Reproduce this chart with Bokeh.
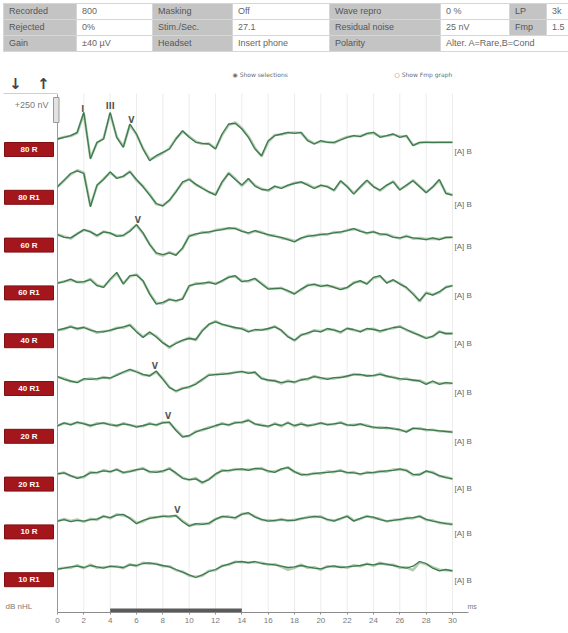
import numpy as np
from bokeh.plotting import figure
from bokeh.models import Range1d, FixedTicker, Div
from bokeh.layouts import column
from bokeh.core.properties import value
from bokeh.embed import file_html
from bokeh.resources import INLINE

# ---------------- data ----------------
time_ms = [i * 0.5 for i in range(61)]          # 0 .. 30 ms sampling grid
trace_labels = ["80 R", "80 R1", "60 R", "60 R1", "40 R", "40 R1",
                "20 R", "20 R1", "10 R", "10 R1"]

# curve A (dark) and curve B (light), amplitude in nV
a_80R = [0,17,33,67,267,-200,-33,0,267,17, -83,150,50,-100,-217,-167,-133,-100,0,83,
         17,-33,-43,-50,-100,50,150,157,100,17, -100,-167,-17,33,50,67,57,67,-17,-50,
         -17,-33,-33,-10,17,33,23,57,67,17, 33,50,17,33,-67,-33,-33,-33,-33,-33, -33]
b_80R = [0,20,30,60,255,-190,-40,5,255,20, -75,140,45,-95,-205,-175,-140,-95,5,75,
         25,-25,-50,-45,-95,40,140,165,110,25, -90,-175,-30,40,45,60,65,60,-10,-45,
         -25,-30,-40,-5,20,30,30,50,60,25, 30,45,25,30,-60,-40,-30,-35,-33,-33, -33]
a_80R1 = [0,67,133,160,133,-200,17,73,150,83, 107,150,73,0,-83,-167,-193,-133,-50,50,
          73,27,-17,-50,-83,50,133,73,17,83, 7,-27,-33,7,-17,17,33,50,17,-17,
          17,0,-33,60,0,-73,0,67,0,-33, 17,50,-33,17,60,0,-60,0,73,-67, -83]
b_80R1 = [0,60,125,165,140,-190,10,80,140,90, 100,155,65,5,-75,-175,-185,-140,-45,40,
          80,20,-10,-55,-75,40,140,80,10,75, 15,-20,-40,0,-10,10,40,45,25,-10,
          10,5,-40,55,5,-65,-5,60,5,-40, 10,55,-25,10,65,5,-55,-5,65,-60, -83]
a_60R = [0,-27,-33,7,50,27,-7,27,17,-17, -7,33,100,17,-100,-183,-200,-183,-207,-133,
         -17,7,17,27,40,50,67,60,33,17, 40,17,0,-17,-27,-50,-73,-33,-17,-7,
         0,7,17,27,40,60,33,17,27,7, 0,-27,-33,-17,-33,-40,-50,-33,-50,-27, -27]
b_60R = [0,-20,-40,10,45,30,-15,30,10,-10, -10,40,95,10,-95,-190,-210,-175,-200,-140,
         -10,0,25,20,45,55,60,65,40,10, 35,25,-5,-10,-35,-45,-65,-40,-10,-15,
         5,0,25,20,45,55,40,10,30,0, 5,-20,-40,-10,-40,-35,-45,-40,-45,-30, -27]
a_60R1 = [-7,7,33,0,7,27,-33,-50,33,100, -17,67,73,17,-117,-217,-200,-173,-183,-167,
          -33,-17,-7,0,-17,17,50,67,7,17, 40,-17,-67,-60,-60,-83,-117,-67,-33,-17,
          -40,-27,-50,-73,-50,-7,17,-17,50,67, -7,27,-17,-50,-117,-183,-107,-127,-93,-50, -33]
b_60R1 = [-7,10,25,5,0,35,-25,-45,25,90, -10,60,80,10,-110,-205,-210,-165,-190,-160,
          -40,-10,-15,5,-10,10,55,60,15,10, 35,-10,-60,-65,-55,-90,-110,-75,-25,-25,
          -35,-35,-45,-65,-55,0,10,-10,45,60, 0,20,-10,-55,-110,-190,-100,-120,-100,-45, -33]
a_40R = [0,17,33,17,27,0,-17,-17,0,17, 33,50,-17,-73,-17,-67,-127,-167,-133,-100,
         -83,-93,-7,60,83,60,40,27,13,-17, 7,0,17,33,0,-67,-100,-50,-27,-7,
         -17,17,0,-17,17,7,-17,17,7,-7, 7,27,33,7,-27,-50,-83,-60,-17,-33, -33]
b_40R = [0,10,40,10,30,5,-25,-10,-5,25, 25,55,-10,-65,-25,-60,-120,-175,-125,-105,
         -75,-100,0,55,90,55,45,20,20,-10, 0,5,10,40,-5,-60,-105,-45,-35,0,
         -10,10,5,-25,20,0,-10,10,15,-15, 10,20,40,0,-20,-55,-75,-65,-10,-35, -33]
a_40R1 = [13,-13,-30,-47,-7,-13,-7,3,0,27, 60,87,60,37,20,70,-13,-97,-130,-107,
          -87,-63,-13,27,37,37,47,53,67,47, 60,-7,-20,-30,-47,-33,-40,-20,-7,13,
          3,-13,3,3,20,33,37,20,27,37, 20,3,-7,-13,-20,-30,-63,-30,-63,-47, -53]
b_40R1 = [10,-5,-35,-40,-15,-5,-15,10,-5,35, 55,80,65,30,25,60,-5,-90,-135,-100,
          -95,-55,-20,35,30,45,40,60,60,55, 50,0,-25,-25,-55,-25,-45,-15,-15,20,
          -5,-5,-5,10,15,40,30,25,20,45, 15,10,-15,-5,-25,-25,-55,-40,-55,-50, -53]
a_20R = [0,30,10,37,20,3,17,30,10,3, 20,10,-13,3,20,10,30,37,-47,-113,
         -97,-63,-37,-23,3,20,10,30,37,53, 20,3,-3,17,3,30,3,17,3,10,
         30,10,20,30,10,3,20,-3,-13,-23, -17,-30,-37,-63,-23,-30,-37,-43,-50,-57, -63]
b_20R = [0,25,15,30,25,-5,25,25,15,-5, 25,5,-5,-5,25,5,35,30,-40,-105,
         -105,-55,-45,-15,-5,25,5,35,30,60, 15,10,-10,25,-5,35,-5,25,-5,15,
         25,15,15,35,5,10,15,5,-20,-15, -25,-25,-45,-55,-30,-25,-45,-40,-55,-55, -63]
a_20R1 = [-3,7,-20,-47,-27,7,13,27,20,40, 13,20,40,47,20,13,27,47,7,-47,
          -60,-53,-87,-60,-3,27,33,40,47,33, 53,47,27,13,47,60,20,-13,-7,0,
          7,13,20,27,13,7,-3,7,13,20, 27,33,47,30,-7,-13,27,7,-20,-40, -53]
b_20R1 = [-3,10,-25,-40,-35,15,5,35,15,45, 5,25,35,55,15,20,20,55,0,-40,
          -65,-45,-95,-55,-10,35,25,45,40,40, 45,55,20,20,40,65,15,-5,-15,5,
          0,20,15,35,5,15,-10,15,5,25, 20,40,40,35,-15,-5,20,15,-25,-35, -53]
a_10R = [3,17,-3,10,3,17,23,50,37,63, 70,30,-23,10,30,43,50,53,57,-3,
         -47,-23,-30,-17,20,50,43,37,70,87, 43,20,3,10,17,10,10,30,37,50,
         43,20,3,30,50,3,30,50,43,17, 3,10,20,30,37,50,20,3,-10,-23, -30]
b_10R = [3,25,5,20,-5,25,15,55,30,70, 60,35,-15,0,35,40,55,45,60,5,
         -40,-30,-25,-25,25,45,50,30,75,80, 50,15,10,5,25,5,15,25,45,45,
         50,15,10,25,55,10,25,55,35,25, 0,15,15,35,30,55,15,10,-15,-20, -30]
a_10R1 = [0,10,23,30,17,37,23,10,30,23, 17,43,37,57,63,50,37,23,-3,-30,
          -57,-83,-57,-23,-3,30,50,70,77,63, 77,57,50,43,30,17,23,37,23,10,
          3,23,33,17,23,30,37,50,43,57, 50,37,23,10,30,77,57,10,-17,-3, -17]
b_10R1 = [0,15,15,40,10,45,15,20,25,30, 10,50,30,65,55,55,30,30,-10,-25,
          -65,-75,-65,-15,-10,35,45,75,70,70, 70,65,45,50,25,-5,15,45,15,20,
          -5,30,25,25,15,40,30,55,35,65, 45,45,15,20,-10,70,50,20,-5,-10, -17]

curves_a = [a_80R, a_80R1, a_60R, a_60R1, a_40R, a_40R1, a_20R, a_20R1, a_10R, a_10R1]
curves_b = [b_80R, b_80R1, b_60R, b_60R1, b_40R, b_40R1, b_20R, b_20R1, b_10R, b_10R1]

marker_text = ["I", "III", "V", "V", "V", "V", "V"]
marker_trace = [0, 0, 0, 2, 5, 6, 8]
marker_ms = [1.92, 4.0, 5.6, 6.1, 7.4, 8.4, 9.1]

x_ticks = list(range(0, 31, 2))
window_ms = [4, 14]
scale_nv = 250

table_rows = [
    ["Recorded", "800", "Masking", "Off", "Wave repro", "0 %", "LP", "3k"],
    ["Rejected", "0%", "Stim./Sec.", "27.1", "Residual noise", "25 nV", "Fmp", "1.5"],
    ["Gain", "\u00b140 \u00b5V", "Headset", "Insert phone", "Polarity", "Alter. A=Rare,B=Cond"],
]

# ---------------- layout constants ----------------
FONT = value("Liberation Sans")
W = 568
DIV_H = 52
H = 633 - DIV_H
FRAME_BOTTOM_PAGE = 612
FRAME_H = FRAME_BOTTOM_PAGE - DIV_H
PX_MS = 13.167          # pixels per ms
NV_PX = 10.0            # nV per pixel
ORIGIN_PX = 57          # x-position of 0 ms
Y_TOP = (138.5 - DIV_H) * NV_PX
Y_BOT = Y_TOP - FRAME_H * NV_PX
TRACE_GAP = 478         # vertical offset between traces (nV)

def dx(px):   # horizontal pixel (page) -> ms
    return (px - ORIGIN_PX) / PX_MS

def dy(py):   # vertical pixel (page) -> nV
    return (138.5 - py) * NV_PX

p = figure(width=W, height=H, output_backend="svg", toolbar_location=None,
           x_range=Range1d(-ORIGIN_PX / PX_MS, (W - ORIGIN_PX) / PX_MS),
           y_range=Range1d(Y_BOT, Y_TOP), y_axis_location=None,
           min_border_left=0, min_border_right=0, min_border_top=0,
           min_border_bottom=H - FRAME_H, outline_line_color=None,
           background_fill_color="white", border_fill_color="white")
p.grid.visible = False

# faint vertical grid
p.segment(x0=x_ticks, x1=x_ticks, y0=[Y_BOT] * len(x_ticks), y1=[dy(93)] * len(x_ticks),
          line_color="#ececec", line_width=1)

# x axis
ax = p.xaxis[0]
ax.bounds = (0, 31.2)
ax.ticker = FixedTicker(ticks=x_ticks)
ax.axis_line_color = "#8c8c8c"
ax.major_tick_in = 0
ax.major_tick_out = 2
ax.major_tick_line_color = "#8c8c8c"
ax.minor_tick_line_color = None
ax.major_label_text_font = "Liberation Sans"
ax.major_label_text_font_size = "8px"
ax.major_label_text_color = "#7a7a7a"
ax.major_label_standoff = 3

# analysis window bar
p.segment(x0=[window_ms[0]], x1=[window_ms[1]], y0=[dy(610)], y1=[dy(610)],
          line_color="#5a5a5a", line_width=4)

# vertical axis line and scale bar
p.segment(x0=[0], x1=[0], y0=[Y_BOT], y1=[dy(94)], line_color="#9a9a9a", line_width=1)
p.quad(left=[dx(53)], right=[dx(58.5)], bottom=[dy(122)], top=[dy(122) + scale_nv],
       fill_color="#e2e2e2", line_color="#9a9a9a", line_width=1)
p.text(x=[dx(48)], y=[dy(104)], text=[f"+{scale_nv} nV"], text_font=FONT,
       text_font_size="9px", text_color="#7a7a7a", text_align="right", text_baseline="middle")

# traces
bases = [-TRACE_GAP * i for i in range(len(trace_labels))]
for base, ca, cb in zip(bases, curves_a, curves_b):
    p.line(time_ms, np.array(cb) + base, line_color="#b3ccb3", line_width=2.6)
    p.line(time_ms, np.array(ca) + base, line_color="#3e7a4e", line_width=1.3)

# end-of-trace [A] B labels
p.text(x=[30.15] * len(bases), y=[ca[-1] + b - 95 for ca, b in zip(curves_a, bases)],
       text=["[A]  B"] * len(bases), text_font=FONT, text_font_size="8px",
       text_color="#6a6a6a", text_align="left", text_baseline="middle")

# red level labels
p.rect(x=[dx(28.5)] * len(bases), y=[b - 105 for b in bases], width=49, height=14,
       width_units="screen", height_units="screen",
       fill_color="#a3161c", line_color="#7f1014")
p.text(x=[dx(28.5)] * len(bases), y=[b - 105 for b in bases], text=trace_labels,
       text_font=FONT, text_font_size="8px", text_font_style="bold",
       text_color="white", text_align="center", text_baseline="middle")

# wave markers
mk_y = [np.interp(t, time_ms, curves_a[i]) + bases[i] + 15
        for t, i in zip(marker_ms, marker_trace)]
p.text(x=marker_ms, y=mk_y, text=marker_text, text_font=value("DejaVu Sans"),
       text_font_size="8px", text_font_style="bold", text_color="#555555",
       text_align="center", text_baseline="bottom")

# misc texts
p.text(x=[dx(5)], y=[dy(606)], text=["dB nHL"], text_font=FONT, text_font_size="8px",
       text_color="#7a7a7a", text_align="left", text_baseline="middle")
p.text(x=[dx(467)], y=[dy(606)], text=["ms"], text_font=FONT, text_font_size="7px",
       text_color="#7a7a7a", text_align="left", text_baseline="middle")
p.text(x=[dx(232)], y=[dy(74)], text=["\u25c9 Show selections"], text_font=value("DejaVu Sans"),
       text_font_size="6px", text_color="#6a6a6a", text_align="left", text_baseline="middle")
p.text(x=[dx(394)], y=[dy(74)], text=["\u25cb Show Fmp graph"], text_font=value("DejaVu Sans"),
       text_font_size="6px", text_color="#6a6a6a", text_align="left", text_baseline="middle")
p.text(x=[dx(15), dx(43)], y=[dy(83), dy(83)], text=["\u2193", "\u2191"],
       text_font=value("DejaVu Sans"), text_font_size="15px", text_font_style="bold",
       text_color="#444444", text_align="center", text_baseline="middle")
p.segment(x0=[dx(3)], x1=[dx(57)], y0=[dy(93)], y1=[dy(93)], line_color="#cfcfcf", line_width=1)

# ---------------- top table ----------------
col_w = [72, 75, 79, 96, 110, 68, 36, 60]
def td(txt, label, span=1):
    bg = "#c4c4c4" if label else "#ffffff"
    col = "#555555" if label else "#666666"
    return (f'<td colspan="{span}" style="background:{bg};color:{col};padding:0 0 0 5px;'
            f'height:15px;white-space:nowrap;overflow:hidden;">{txt}</td>')

rows_html = ""
for r in table_rows:
    cells = ""
    for j, txt in enumerate(r):
        span = 3 if (len(r) == 6 and j == 5) else 1
        cells += td(txt, j % 2 == 0, span)
    rows_html += f"<tr>{cells}</tr>"
cols = "".join(f'<col style="width:{w}px">' for w in col_w)
html = (f'<div style="position:relative;left:3px;top:3px;width:565px;height:49px;overflow:hidden;">'
        f'<table style="border-collapse:separate;border-spacing:1px;background:#d6d6d6;'
        f'table-layout:fixed;width:{sum(col_w) + 9}px;font-family:\'Liberation Sans\',Arial,sans-serif;'
        f'font-size:9px;line-height:15px;">{cols}{rows_html}</table></div>')
div = Div(text=html, width=W, height=DIV_H, margin=(0, 0, 0, 0))

layout = column(div, p, spacing=0)
open("out.html", "w").write(file_html(layout, INLINE))
